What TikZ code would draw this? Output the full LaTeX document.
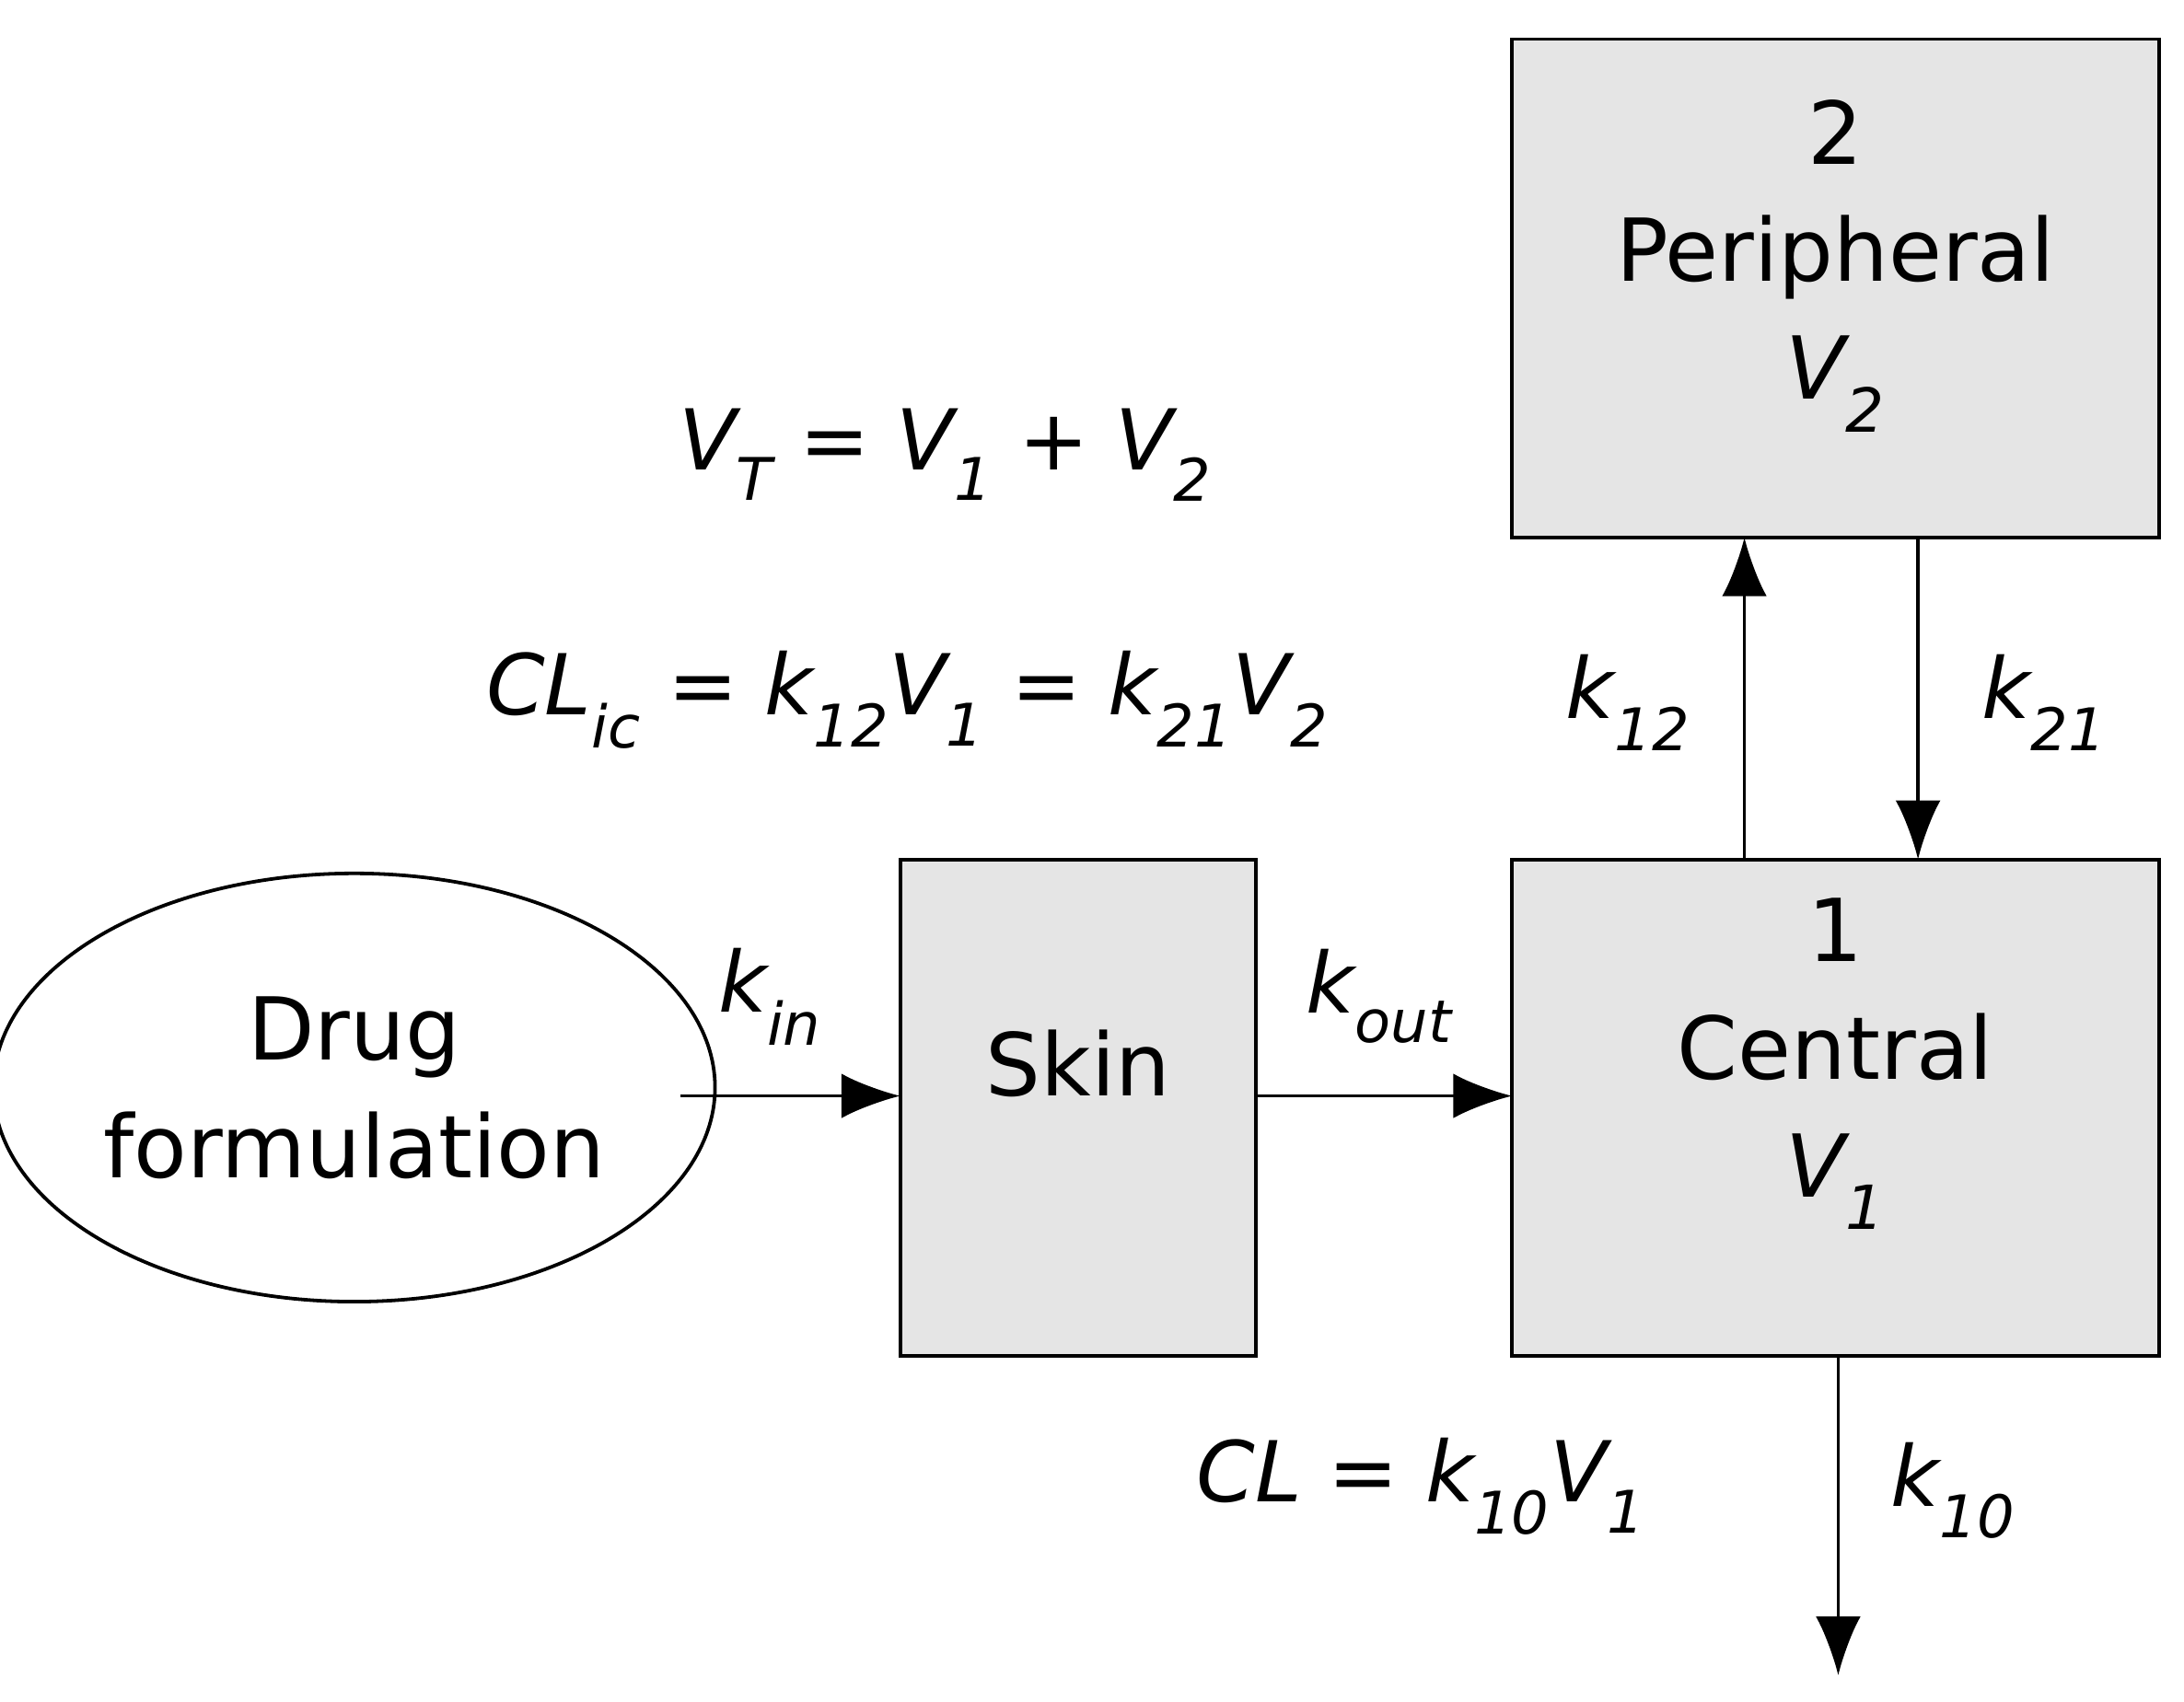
\documentclass[tikz,border=0pt]{standalone}
\usepackage{fontspec}
\setmainfont{DejaVu Sans}
\usetikzlibrary{arrows.meta,shapes.geometric}
\newcommand{\sbs}[1]{\textsubscript{#1}}
\begin{document}
\begin{tikzpicture}[x=1pt,y=-1pt,
  box/.style={draw,line width=2.5pt,fill=gray!20},
  lbl/.style={font=\fontsize{60}{66}\selectfont\itshape},
  big/.style={font=\fontsize{62}{84}\selectfont,align=center},
  arr/.style={line width=2.5pt,-{Latex[length=42pt,width=32pt]}}]
\useasboundingbox (0,0) rectangle (1560,1215.5);
\node[draw,line width=2.5pt,ellipse,minimum width=464pt,minimum height=306pt,big] (drug) at (253,777) {Drug\\formulation};
\draw[box] (643,614) rectangle (897,969);
\node[big] (skin) at (770,760) {Skin};
\draw[box] (1080,614) rectangle (1542,969);
\node[big] (cen) at (1311,760) {1\\Central\\\itshape V\sbs{1}};
\draw[box] (1080,28) rectangle (1542,384);
\node[big] (per) at (1311,190) {2\\Peripheral\\\itshape V\sbs{2}};
\coordinate (a1) at (486,783); \coordinate (a2) at (643,783);
\coordinate (b1) at (897,783); \coordinate (b2) at (1080,783);
\coordinate (c1) at (1246,614); \coordinate (c2) at (1246,384);
\coordinate (d1) at (1370,384); \coordinate (d2) at (1370,614);
\coordinate (e1) at (1313,969); \coordinate (e2) at (1313,1197);
\draw[arr] (a1) -- (a2);
\draw[arr] (b1) -- (b2);
\draw[arr] (c1) -- (c2);
\draw[arr] (d1) -- (d2);
\draw[arr] (e1) -- (e2);
\node[lbl] (kin) at (550,712) {k\sbs{in}};
\node[lbl] (kout) at (985,712) {k\sbs{out}};
\node[lbl] (k12) at (1163,502) {k\sbs{12}};
\node[lbl] (k21) at (1460,502) {k\sbs{21}};
\node[lbl] (k10) at (1395,1065) {k\sbs{10}};
\node[lbl] (cl) at (1015,1062) {CL = k\sbs{10}V\sbs{1}};
\node[lbl] (clic) at (648,500) {CL\sbs{ic} = k\sbs{12}V\sbs{1} = k\sbs{21}V\sbs{2}};
\node[lbl] (vt) at (675,325) {V\sbs{T} = V\sbs{1} + V\sbs{2}};
\end{tikzpicture}
\end{document}
